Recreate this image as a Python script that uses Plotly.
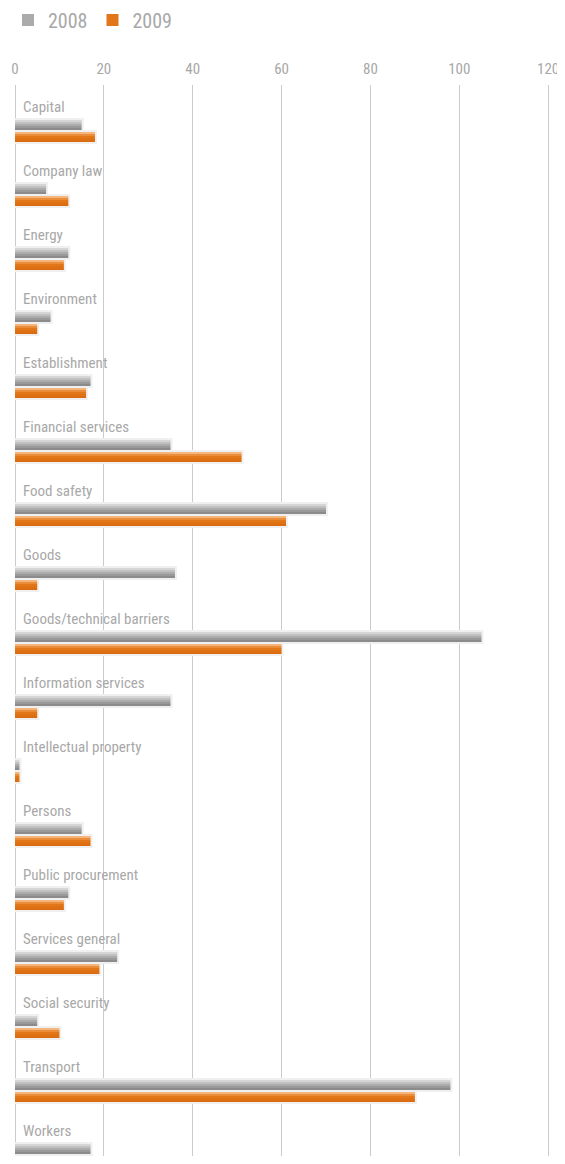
import plotly.graph_objects as go

categories = ["Capital", "Company law", "Energy", "Environment", "Establishment",
              "Financial services", "Food safety", "Goods", "Goods/technical barriers",
              "Information services", "Intellectual property", "Persons",
              "Public procurement", "Services general", "Social security",
              "Transport", "Workers"]
values_2008 = [15, 7, 12, 8, 17, 35, 70, 36, 105, 35, 1, 15, 12, 23, 5, 98, 17]
values_2009 = [18, 12, 11, 5, 16, 51, 61, 5, 60, 5, 1, 17, 11, 19, 10, 90, 17]
x_ticks = [0, 20, 40, 60, 80, 100, 120]

FONT = "Liberation Sans Narrow, Roboto Condensed, Arial Narrow, Roboto, sans-serif"
TXT = "#a8a8a8"

gray_shades = ["#d6d6d6", "#c0c0c0", "#ababab", "#999999", "#8b8b8b"]
orange_shades = ["#f4b67c", "#ea8c38", "#e2771a", "#de7113", "#db6d10"]

pos = list(range(len(categories)))
PX = 1 / 64.0  # one pixel in category units

fig = go.Figure()


def add_series(vals, name, shades, top_px):
    # light halo behind the bar
    fig.add_trace(go.Bar(
        x=vals, y=pos, orientation="h", name=name, showlegend=False,
        offset=top_px * PX, width=10 * PX,
        marker=dict(color="#ededed", line=dict(color="#f0f0f0", width=4)),
        hoverinfo="skip",
    ))
    n = len(shades)
    h = 10 / n
    for k, col in enumerate(shades):
        fig.add_trace(go.Bar(
            x=vals, y=pos, orientation="h", name=name,
            legendgroup=name, showlegend=(k == 2),
            offset=(top_px + k * h) * PX, width=h * PX * 1.02,
            marker=dict(color=col, line=dict(width=0)),
        ))


add_series(values_2008, "2008", gray_shades, -12)
add_series(values_2009, "2009", orange_shades, 0)

for i, c in enumerate(categories):
    fig.add_annotation(x=0, y=i, xref="x", yref="y", text=c, showarrow=False,
                       xanchor="left", yanchor="middle", xshift=6, yshift=25,
                       font=dict(family=FONT, size=15, color=TXT))

T = 77
H = 1148
L, R = 7, 4
plot_h = H - T
plot_w = 565 - L - R
fig.update_layout(
    width=565, height=H,
    margin=dict(l=L, r=R, t=T, b=0, autoexpand=False),
    paper_bgcolor="white", plot_bgcolor="white",
    barmode="overlay",
    showlegend=True,
    legend=dict(orientation="h", xref="container", yref="container",
                x=-0.015, xanchor="left", y=1 - 12 / H, yanchor="middle",
                font=dict(family=FONT, size=20, color=TXT),
                itemwidth=30, traceorder="normal", bgcolor="rgba(0,0,0,0)"),
    xaxis=dict(side="top", range=[0, plot_w / 4.443], tickvals=x_ticks,
               showgrid=True, gridcolor="#cccccc", gridwidth=1,
               zeroline=True, zerolinecolor="#cccccc", zerolinewidth=1,
               showline=False, ticks="", ticklabelstandoff=7,
               ticklabeloverflow="allow",
               tickfont=dict(family=FONT, size=15, color=TXT)),
    yaxis=dict(range=[-0.734 + plot_h / 64, -0.734], showticklabels=False,
               showgrid=False, zeroline=False, showline=False, ticks=""),
)

fig.write_html("out.html")
